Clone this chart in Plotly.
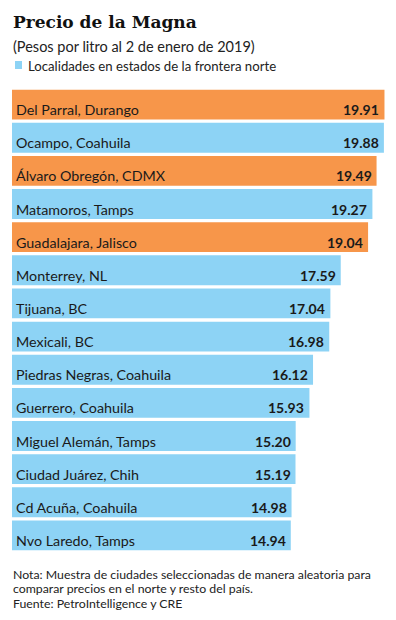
import plotly.graph_objects as go

cities = ["Del Parral, Durango", "Ocampo, Coahuila", "Álvaro Obregón, CDMX", "Matamoros, Tamps",
          "Guadalajara, Jalisco", "Monterrey, NL", "Tijuana, BC", "Mexicali, BC",
          "Piedras Negras, Coahuila", "Guerrero, Coahuila", "Miguel Alemán, Tamps",
          "Ciudad Juárez, Chih", "Cd Acuña, Coahuila", "Nvo Laredo, Tamps"]
prices = [19.91, 19.88, 19.49, 19.27, 19.04, 17.59, 17.04, 16.98, 16.12, 15.93, 15.20, 15.19, 14.98, 14.94]
border = [False, True, False, True, False, True, True, True, True, True, True, True, True, True]

ORANGE = "#F7964A"
BLUE = "#8DD3F5"
colors = [BLUE if b else ORANGE for b in border]

OFF = 8  # page body margin
W, H = 396 - OFF, 620 - OFF
ML, MR, MT, MB = 12 - OFF, 8, 88 - OFF, 68
PW = W - ML - MR
PH = H - MT - MB

def py(p):  # window pixel y -> paper
    return (H - MB - (p - OFF)) / PH

def px(p):  # window pixel x -> paper
    return (p - OFF - ML) / PW

fig = go.Figure(go.Bar(
    x=prices, y=cities, orientation="h",
    marker=dict(color=colors, line=dict(width=0)),
    hoverinfo="skip",
))

ann = []
for c, v in zip(cities, prices):
    ann.append(dict(x=0, xref="paper", y=c, yref="y", text=c, showarrow=False,
                    xanchor="left", yanchor="middle", xshift=2, yshift=-5,
                    font=dict(family="Lato", size=14.3, color="#1a1a1a")))
    ann.append(dict(x=v, xref="x", y=c, yref="y", text="<b>%.2f</b>" % v, showarrow=False,
                    xanchor="right", yanchor="middle", xshift=-3, yshift=-5,
                    font=dict(family="Lato", size=14, color="#1a1a1a")))

ann.append(dict(x=0, xref="paper", y=py(22), yref="paper", text="<b>Precio de la Magna</b>",
                showarrow=False, xanchor="left", yanchor="middle", xshift=-1,
                font=dict(family="DejaVu Serif", size=17, color="#111111")))
ann.append(dict(x=0, xref="paper", y=py(46), yref="paper", text="(Pesos por litro al 2 de enero de 2019)",
                showarrow=False, xanchor="left", yanchor="middle", xshift=-1,
                font=dict(family="Lato", size=14.5, color="#222222")))
ann.append(dict(x=px(26), xref="paper", y=py(66), yref="paper", text="Localidades en estados de la frontera norte",
                showarrow=False, xanchor="left", yanchor="middle",
                font=dict(family="Lato", size=13.2, color="#222222")))
foot = ["Nota: Muestra de ciudades seleccionadas de manera aleatoria para",
        "comparar precios en el norte y resto del país.",
        "Fuente: PetroIntelligence y CRE"]
for i, t in enumerate(foot):
    ann.append(dict(x=0, xref="paper", y=py(574 + 14.5 * i), yref="paper", text=t,
                    showarrow=False, xanchor="left", yanchor="middle", xshift=-1,
                    font=dict(family="Lato", size=12.3, color="#222222")))

shapes = [dict(type="rect", xref="paper", yref="paper",
               x0=px(15), x1=px(22),
               y0=py(69), y1=py(61), fillcolor=BLUE, line=dict(width=0))]

fig.update_layout(
    width=W, height=H,
    margin=dict(l=ML, r=MR, t=MT, b=MB),
    paper_bgcolor="white", plot_bgcolor="white",
    bargap=0.1,
    showlegend=False,
    xaxis=dict(range=[0.15, 0.15 + PW / 18.85], visible=False, fixedrange=True),
    yaxis=dict(autorange="reversed", visible=False, fixedrange=True),
    annotations=ann, shapes=shapes,
)

fig.write_html("out.html", config=dict(displayModeBar=False))
